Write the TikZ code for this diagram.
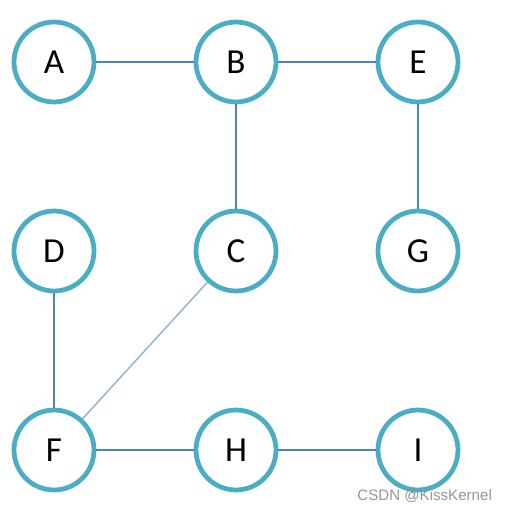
\documentclass[tikz,border=0pt]{standalone}
\usepackage{fontspec}
\setmainfont{Carlito}
\newfontfamily\markfont{Liberation Sans}
\usetikzlibrary{positioning}
\definecolor{ringTeal}{RGB}{75,172,198}
\definecolor{edgeBlue}{RGB}{79,129,189}
\definecolor{edgeLight}{RGB}{150,178,218}
\definecolor{markGray}{RGB}{150,150,150}

\begin{document}
\begin{tikzpicture}[
      x=0.02cm, y=-0.02cm,
      vertex/.style={draw=ringTeal, line width=2.7pt, circle, minimum size=1.6cm, inner sep=0pt, fill=white, font=\fontsize{20}{20}\selectfont},
      link/.style={draw=edgeBlue, line width=0.85pt}
    ]
      \useasboundingbox (0,0) rectangle (506,511);
      % first row
      \node[vertex] (A) at (54,62) {A};
      \node[vertex] (B) at (236,62) {B};
      \node[vertex] (E) at (418,62) {E};
      % second row
      \node[vertex] (D) at (54,251) {D};
      \node[vertex] (C) at (236,251) {C};
      \node[vertex] (G) at (418,251) {G};
      % third row
      \node[vertex] (F) at (54,450) {F};
      \node[vertex] (H) at (236,450) {H};
      \node[vertex] (I) at (418,450) {I};

      \draw[link] (A) -- (B);
      \draw[link] (B) -- (E);
      \draw[link] (B) -- (C);
      \draw[link] (E) -- (G);
      \draw[link] (D) -- (F);
      \draw[link, draw=edgeLight] (C) -- (F);
      \draw[link] (F) -- (H);
      \draw[link] (H) -- (I);

      \node[text=markGray, font=\markfont\fontsize{8.6}{8.6}\selectfont, inner sep=0pt, anchor=base west] (mark) at (357,500) {CSDN @KissKernel};
    \end{tikzpicture}
\end{document}
